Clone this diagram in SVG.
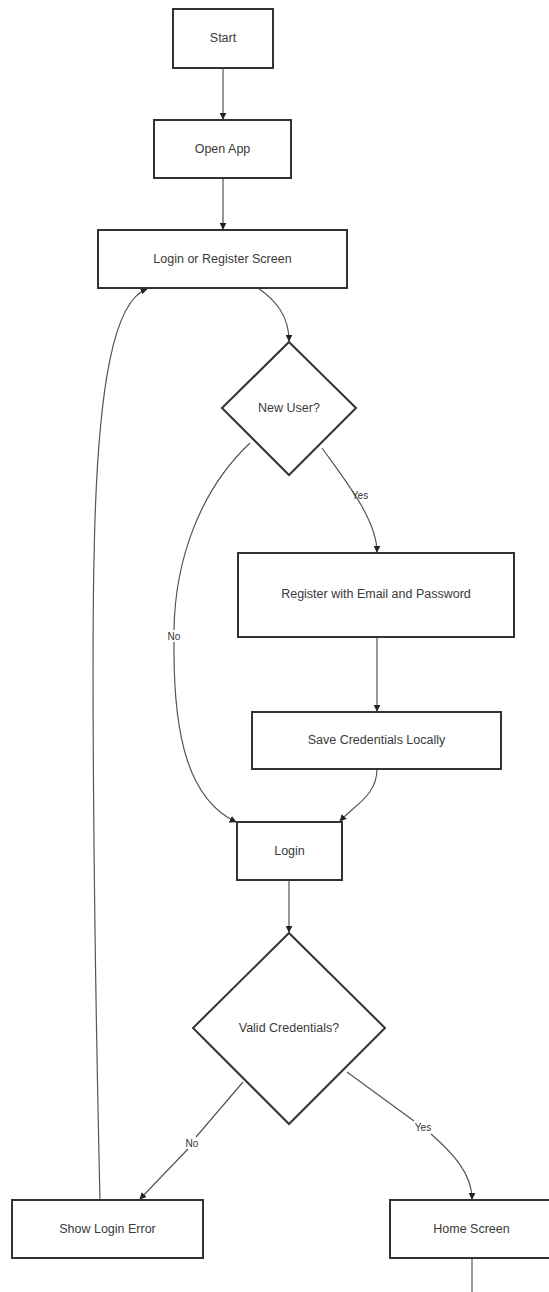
<svg xmlns="http://www.w3.org/2000/svg" width="549" height="1292" viewBox="0 0 549 1292">
<style>
.box{fill:#fff;stroke:#333;stroke-width:2}
.t{font-family:"Liberation Sans",Arial,sans-serif;font-size:12.5px;fill:#3a3a3a;text-anchor:middle;dominant-baseline:central}
.lbl{font-family:"Liberation Sans",Arial,sans-serif;font-size:10px;fill:#333;text-anchor:middle;dominant-baseline:central}
.e{fill:none;stroke:#555;stroke-width:1.2}
</style>
<defs>
<marker id="ah" viewBox="0 0 10 10" refX="9" refY="5" markerWidth="7" markerHeight="7" markerUnits="userSpaceOnUse" orient="auto">
<path d="M0,0 L10,5 L0,10 Z" fill="#222"/>
</marker>
</defs>
<rect width="549" height="1292" fill="#fff"/>
<g id="edges">
<path class="e" d="M223,68 L223,119" marker-end="url(#ah)"/>
<path class="e" d="M223,178 L223,229" marker-end="url(#ah)"/>
<path class="e" d="M258,288 C275,300 289,315 289,341" marker-end="url(#ah)"/>
<path class="e" d="M322,448 C345,480 377,520 377,552" marker-end="url(#ah)"/>
<path class="e" d="M250,443 C200,490 175,560 174,630 M174,642 C173,740 190,800 236,822" marker-end="url(#ah)"/>
<path class="e" d="M377,637 L377,711" marker-end="url(#ah)"/>
<path class="e" d="M377,769 C377,795 355,805 340,821" marker-end="url(#ah)"/>
<path class="e" d="M289,880 L289,932" marker-end="url(#ah)"/>
<path class="e" d="M243,1082 L196,1137 M188,1149 L140,1199" marker-end="url(#ah)"/>
<path class="e" d="M347,1072 L414,1121 M431,1134 C455,1155 472,1175 472,1199" marker-end="url(#ah)"/>
<path class="e" d="M100,1200 C93,900 92,650 94,560 C97,380 115,300 147,289" marker-end="url(#ah)"/>
<path class="e" d="M472,1258 L472,1292"/>
<text class="lbl" x="360" y="495">Yes</text>
<text class="lbl" x="174" y="636">No</text>
<text class="lbl" x="192" y="1143">No</text>
<text class="lbl" x="423" y="1127">Yes</text>
</g>
<g id="start"><rect class="box" x="173" y="9" width="100" height="59"/><text class="t" x="223" y="38">Start</text></g>
<g id="openapp"><rect class="box" x="154" y="120" width="137" height="58"/><text class="t" x="222.5" y="149">Open App</text></g>
<g id="loginreg"><rect class="box" x="98" y="230" width="249" height="58"/><text class="t" x="222.5" y="259">Login or Register Screen</text></g>
<g id="newuser"><polygon class="box" points="289,342 356,408 289,475 222,408"/><text class="t" x="289" y="408">New User?</text></g>
<g id="register"><rect class="box" x="238" y="553" width="276" height="84"/><text class="t" x="376" y="594">Register with Email and Password</text></g>
<g id="save"><rect class="box" x="252" y="712" width="249" height="57"/><text class="t" x="376.5" y="740">Save Credentials Locally</text></g>
<g id="login"><rect class="box" x="237" y="822" width="105" height="58"/><text class="t" x="289.5" y="851">Login</text></g>
<g id="valid"><polygon class="box" points="289,933 385,1028 289,1124 193,1028"/><text class="t" x="289" y="1028">Valid Credentials?</text></g>
<g id="showerr"><rect class="box" x="12" y="1200" width="191" height="58"/><text class="t" x="107.5" y="1229">Show Login Error</text></g>
<g id="home"><rect class="box" x="390" y="1200" width="163" height="58"/><text class="t" x="471.5" y="1229">Home Screen</text></g>
</svg>
